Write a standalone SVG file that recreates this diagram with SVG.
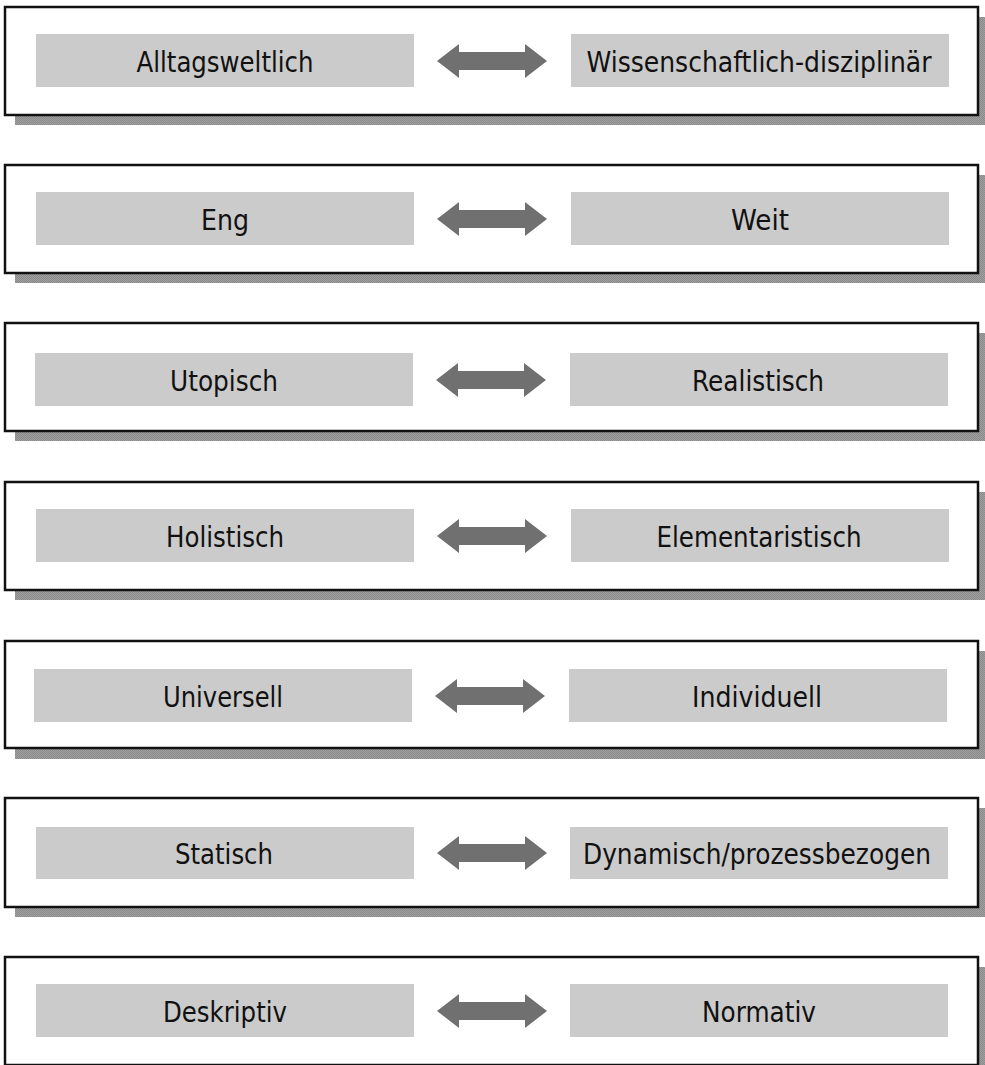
<svg xmlns="http://www.w3.org/2000/svg" width="985" height="1065" viewBox="0 0 985 1065">
<defs>
<pattern id="dots" width="2" height="2" patternUnits="userSpaceOnUse">
<rect width="2" height="2" fill="#a0a0a0"/>
<rect width="1" height="1" fill="#8a8a8a"/>
<rect x="1" y="1" width="1" height="1" fill="#8a8a8a"/>
</pattern>
<path id="arr" d="M0,0 L22,-17 L22,-9 L88,-9 L88,-17 L110,0 L88,17 L88,9 L22,9 L22,17 Z"/>
</defs>
<style>
.shadow{fill:url(#dots)}
.frame{fill:#fff;stroke:#111;stroke-width:2.5}
.term{fill:#cbcbcb}
.lbl{font-family:"DejaVu Sans","Liberation Sans",sans-serif;font-size:28px;fill:#111;text-anchor:middle}
.arrow{fill:#707070}
</style>
<g id="row1">
<rect class="shadow" x="15" y="17" width="973" height="108"/>
<rect class="frame" x="5" y="7" width="973" height="108"/>
<rect class="term" x="36" y="34" width="378" height="53"/>
<text class="lbl" x="225" y="72" textLength="177" lengthAdjust="spacingAndGlyphs">Alltagsweltlich</text>
<rect class="term" x="571" y="34" width="378" height="53"/>
<text class="lbl" x="759" y="72" textLength="345" lengthAdjust="spacingAndGlyphs">Wissenschaftlich-disziplinär</text>
</g>
<g id="row2">
<rect class="shadow" x="15" y="175" width="973" height="108"/>
<rect class="frame" x="5" y="165" width="973" height="108"/>
<rect class="term" x="36" y="192" width="378" height="53"/>
<text class="lbl" x="225" y="230" textLength="48" lengthAdjust="spacingAndGlyphs">Eng</text>
<rect class="term" x="571" y="192" width="378" height="53"/>
<text class="lbl" x="760" y="230" textLength="58" lengthAdjust="spacingAndGlyphs">Weit</text>
</g>
<g id="row3">
<rect class="shadow" x="15" y="333" width="973" height="108"/>
<rect class="frame" x="5" y="323" width="973" height="108"/>
<rect class="term" x="35" y="353" width="378" height="53"/>
<text class="lbl" x="224" y="391" textLength="108" lengthAdjust="spacingAndGlyphs">Utopisch</text>
<rect class="term" x="570" y="353" width="378" height="53"/>
<text class="lbl" x="758" y="391" textLength="132" lengthAdjust="spacingAndGlyphs">Realistisch</text>
</g>
<g id="row4">
<rect class="shadow" x="15" y="492" width="973" height="108"/>
<rect class="frame" x="5" y="482" width="973" height="108"/>
<rect class="term" x="36" y="509" width="378" height="53"/>
<text class="lbl" x="225" y="547" textLength="118" lengthAdjust="spacingAndGlyphs">Holistisch</text>
<rect class="term" x="571" y="509" width="378" height="53"/>
<text class="lbl" x="759" y="547" textLength="205" lengthAdjust="spacingAndGlyphs">Elementaristisch</text>
</g>
<g id="row5">
<rect class="shadow" x="15" y="651" width="973" height="108"/>
<rect class="frame" x="5" y="641" width="973" height="107"/>
<rect class="term" x="34" y="669" width="378" height="53"/>
<text class="lbl" x="223" y="707" textLength="120" lengthAdjust="spacingAndGlyphs">Universell</text>
<rect class="term" x="569" y="669" width="378" height="53"/>
<text class="lbl" x="757" y="707" textLength="130" lengthAdjust="spacingAndGlyphs">Individuell</text>
</g>
<g id="row6">
<rect class="shadow" x="15" y="808" width="973" height="109"/>
<rect class="frame" x="5" y="798" width="973" height="109"/>
<rect class="term" x="36" y="827" width="378" height="52"/>
<text class="lbl" x="224" y="864" textLength="98" lengthAdjust="spacingAndGlyphs">Statisch</text>
<rect class="term" x="570" y="827" width="378" height="52"/>
<text class="lbl" x="757" y="864" textLength="348" lengthAdjust="spacingAndGlyphs">Dynamisch/prozessbezogen</text>
</g>
<g id="row7">
<rect class="shadow" x="15" y="967" width="973" height="108"/>
<rect class="frame" x="5" y="957" width="973" height="108"/>
<rect class="term" x="36" y="984" width="378" height="53"/>
<text class="lbl" x="225" y="1022" textLength="124" lengthAdjust="spacingAndGlyphs">Deskriptiv</text>
<rect class="term" x="570" y="984" width="378" height="53"/>
<text class="lbl" x="759" y="1022" textLength="114" lengthAdjust="spacingAndGlyphs">Normativ</text>
</g>
<g id="connectors" class="arrow">
<use href="#arr" x="437" y="61"/>
<use href="#arr" x="437" y="219"/>
<use href="#arr" x="436" y="380"/>
<use href="#arr" x="437" y="536"/>
<use href="#arr" x="435" y="696"/>
<use href="#arr" x="437" y="853"/>
<use href="#arr" x="437" y="1011"/>
</g>
</svg>
